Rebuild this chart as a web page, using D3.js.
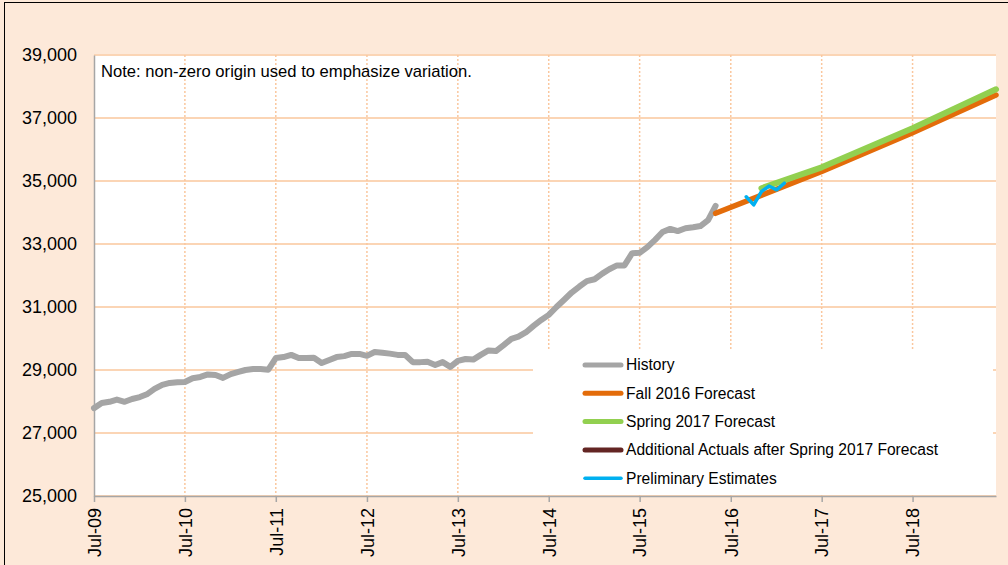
<!DOCTYPE html>
<html>
<head>
<meta charset="utf-8">
<script src="https://cdn.jsdelivr.net/npm/d3@7"></script>
<style>
  html, body { margin: 0; padding: 0; background: #fde9d9; }
  svg { display: block; font-family: "Liberation Sans", Arial, sans-serif; }
</style>
</head>
<body>
<svg id="chart"></svg>
<script>
// monthly history, starting Jul-09
const historyStart = "2009-07";
const historyValues = [
  27790, 27950, 27990, 28060, 27990, 28080, 28140, 28240, 28400, 28530, 28590, 28610,
  28620, 28740, 28780, 28860, 28840, 28750, 28870, 28940, 29000, 29030, 29030, 29010,
  29380, 29410, 29480, 29380, 29380, 29390, 29220, 29320, 29410, 29440, 29510, 29510,
  29450, 29570, 29550, 29520, 29480, 29480, 29250, 29250, 29260, 29160, 29250, 29100,
  29290, 29350, 29330, 29480, 29620, 29600, 29790, 29990, 30060, 30200, 30400, 30590,
  30750, 31000, 31230, 31460, 31650, 31820, 31880, 32060, 32200, 32320, 32320, 32710,
  32720, 32900, 33130, 33380, 33480, 33410, 33500, 33530, 33570, 33760, 34210
];

const fallMonths = ["2016-05", "2017-07", "2018-07", "2019-06"];
const fallValues = [33975, 35300, 36535, 37730];

const springMonths = ["2016-11", "2017-07", "2018-07", "2019-06"];
const springValues = [34770, 35435, 36675, 37910];

const actualMonths = [];
const actualValues = [];

const prelimMonths = ["2016-09", "2016-10", "2016-11", "2016-12", "2017-01", "2017-02"];
const prelimValues = [34500, 34240, 34660, 34840, 34720, 34930];

const yTicks = [25000, 27000, 29000, 31000, 33000, 35000, 37000, 39000];
const xTickMonths = ["2009-07", "2010-07", "2011-07", "2012-07", "2013-07",
                     "2014-07", "2015-07", "2016-07", "2017-07", "2018-07"];
const xTickLabels = ["Jul-09", "Jul-10", "Jul-11", "Jul-12", "Jul-13",
                     "Jul-14", "Jul-15", "Jul-16", "Jul-17", "Jul-18"];

const legendNames = ["History", "Fall 2016 Forecast", "Spring 2017 Forecast",
                     "Additional Actuals after Spring 2017 Forecast", "Preliminary Estimates"];
const colors = ["#a5a5a5", "#e36c0a", "#92d050", "#632523", "#00b0f0"];
const widths = [6, 5.5, 6, 5.5, 3.5];

const noteText = "Note: non-zero origin used to emphasize variation.";

window.addEventListener('load', e => {
    let width = 1008;
    let height = 565;
    let left = 94, right = 996, top = 55, bottom = 496;

    let parseMonth = d3.timeParse("%Y-%m");

    let svg = d3.select("#chart")
                .attr("width", width)
                .attr("height", height);

    svg.append("rect")
       .attr("x", 4.5).attr("y", 2.5)
       .attr("width", width).attr("height", height)
       .attr("fill", "#fde9d9")
       .attr("stroke", "#000")
       .attr("stroke-width", 1);

    let xScale = d3.scaleTime()
                   .domain([new Date(2009, 6, 1), new Date(2019, 5, 1)])
                   .range([left, right]);

    let yScale = d3.scaleLinear()
                   .domain([25000, 39000])
                   .range([bottom, top]);

    svg.append("rect")
       .attr("x", left).attr("y", top)
       .attr("width", right - left).attr("height", bottom - top)
       .attr("fill", "#fff");

    // horizontal grid
    svg.append("g")
       .selectAll("line")
       .data(yTicks)
       .enter()
       .append("line")
         .attr("x1", left).attr("x2", right)
         .attr("y1", d => yScale(d)).attr("y2", d => yScale(d))
         .attr("stroke", "#fbd5b5")
         .attr("stroke-width", 2);

    // vertical dotted grid
    svg.append("g")
       .selectAll("line")
       .data(xTickMonths.slice(1))
       .enter()
       .append("line")
         .attr("x1", d => xScale(parseMonth(d))).attr("x2", d => xScale(parseMonth(d)))
         .attr("y1", top).attr("y2", bottom)
         .attr("stroke", "#fac79e")
         .attr("stroke-width", 1.5)
         .attr("stroke-dasharray", "2,2");

    let line = d3.line()
                 .x(d => xScale(d.date))
                 .y(d => yScale(d.value));

    let historyStartDate = parseMonth(historyStart);
    let series = [
        historyValues.map((v, i) => ({ date: d3.timeMonth.offset(historyStartDate, i), value: v })),
        fallMonths.map((m, i) => ({ date: parseMonth(m), value: fallValues[i] })),
        springMonths.map((m, i) => ({ date: parseMonth(m), value: springValues[i] })),
        actualMonths.map((m, i) => ({ date: parseMonth(m), value: actualValues[i] })),
        prelimMonths.map((m, i) => ({ date: parseMonth(m), value: prelimValues[i] }))
    ];

    // legend box (under the lines)
    svg.append("rect")
       .attr("x", 533).attr("y", 349)
       .attr("width", 460).attr("height", 146)
       .attr("fill", "#fff");

    svg.append("g")
       .selectAll("path")
       .data(series)
       .enter()
       .append("path")
         .attr("d", d => d.length ? line(d) : null)
         .attr("fill", "none")
         .attr("stroke", (d, i) => colors[i])
         .attr("stroke-width", (d, i) => widths[i])
         .attr("stroke-linejoin", "round")
         .attr("stroke-linecap", "round");

    // axes
    let xAxis = d3.axisBottom(xScale)
                  .tickValues(xTickMonths.map(parseMonth))
                  .tickFormat((d, i) => xTickLabels[i])
                  .tickSize(6)
                  .tickSizeOuter(0);

    let xg = svg.append("g")
                .attr("transform", "translate(0," + bottom + ")")
                .call(xAxis);
    xg.select(".domain").attr("stroke", "#a6a6a6").attr("stroke-width", 1.5);
    xg.selectAll(".tick line").attr("stroke", "#a6a6a6").attr("stroke-width", 1.5);
    xg.selectAll(".tick text")
      .attr("transform", "rotate(-90)")
      .attr("x", -12)
      .attr("y", 0)
      .attr("dy", "0.35em")
      .style("text-anchor", "end")
      .style("font-size", "18px")
      .style("font-family", "'Liberation Sans', Arial, sans-serif")
      .attr("fill", "#000");

    let yAxis = d3.axisLeft(yScale)
                  .tickValues(yTicks)
                  .tickFormat(d3.format(","))
                  .tickSize(0)
                  .tickPadding(17);

    let yg = svg.append("g")
                .attr("transform", "translate(" + left + ",0)")
                .call(yAxis);
    yg.select(".domain").attr("stroke", "#a6a6a6").attr("stroke-width", 1.5);
    yg.selectAll(".tick text")
      .style("font-size", "18px")
      .style("font-family", "'Liberation Sans', Arial, sans-serif")
      .attr("fill", "#000");

    svg.append("text")
       .attr("x", 101)
       .attr("y", 77)
       .style("font-size", "16.6px")
       .attr("fill", "#000")
       .text(noteText);

    // legend entries
    let legend = svg.append("g")
                    .selectAll("g")
                    .data(legendNames)
                    .enter()
                    .append("g")
                      .attr("transform", (d, i) => "translate(0," + (365 + i * 28.3) + ")");

    legend.append("line")
          .attr("x1", 585).attr("x2", 621)
          .attr("y1", 0).attr("y2", 0)
          .attr("stroke", (d, i) => colors[i])
          .attr("stroke-width", (d, i) => i == 4 ? 3.5 : 5)
          .attr("stroke-linecap", "round");

    legend.append("text")
          .attr("x", 626)
          .attr("dy", "0.35em")
          .style("font-size", "15.6px")
          .attr("fill", "#000")
          .text(d => d);
});
</script>
</body>
</html>
